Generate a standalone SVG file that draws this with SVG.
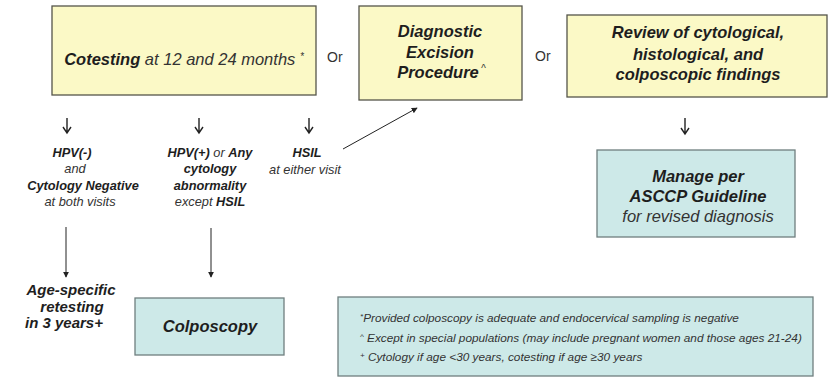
<svg xmlns="http://www.w3.org/2000/svg" width="829" height="378" viewBox="0 0 829 378">
<style>
text{font-family:"Liberation Sans",Arial,sans-serif;fill:#1e1e1e;font-style:italic}
.b{font-weight:bold}
.n{font-weight:normal;fill:#333}
.y{fill:#fbf9c6;stroke:#55554a;stroke-width:1.3}
.t{fill:#cde9e8;stroke:#6f7f7f;stroke-width:1.3}
.box{font-size:16.5px}
.mid{font-size:12.8px}
.fn{font-size:11.8px;fill:#333}
.or{font-size:14px;font-style:normal;fill:#333}
.c line,.c path{stroke:#222;fill:none}
</style>
<defs>
<marker id="tri" viewBox="0 0 8 8" refX="7" refY="4" markerWidth="6" markerHeight="6" orient="auto" markerUnits="userSpaceOnUse"><path d="M0,0 L8,4 L0,8 z" fill="#222"/></marker>
</defs>
<rect width="829" height="378" fill="#fff"/>

<g id="n-cotesting">
<rect class="y" x="52" y="6" width="264" height="89"/>
<text class="box" x="184" y="65" text-anchor="middle"><tspan class="b">Cotesting</tspan><tspan class="n"> at 12 and 24 months </tspan><tspan class="n" font-size="10" dy="-5">*</tspan></text>
</g>
<text class="or" x="327" y="62">Or</text>
<g id="n-excision">
<rect class="y" x="359" y="6" width="163" height="94"/>
<text class="box b" text-anchor="middle"><tspan x="440" y="37">Diagnostic</tspan><tspan x="440" y="58">Excision</tspan><tspan x="438" y="78">Procedure</tspan></text>
<text class="n" x="481" y="72" font-size="10">^</text>
</g>
<text class="or" x="535" y="61">Or</text>
<g id="n-review">
<rect class="y" x="567" y="15" width="260" height="82"/>
<text class="box b" text-anchor="middle"><tspan x="698" y="38">Review  of cytological,</tspan><tspan x="698" y="60">histological, and</tspan><tspan x="698" y="80">colposcopic findings</tspan></text>
</g>

<g id="n-negative">
<text class="mid" text-anchor="middle"><tspan class="b" x="72" y="157">HPV(-)</tspan><tspan class="n" x="75" y="173">and</tspan><tspan class="b" x="83" y="190">Cytology Negative</tspan><tspan class="n" x="80" y="206">at both visits</tspan></text>
</g>
<g id="n-abnormal">
<text class="mid" text-anchor="middle"><tspan x="210" y="157"><tspan class="b">HPV(+)</tspan><tspan class="n"> or </tspan><tspan class="b">Any</tspan></tspan><tspan class="b" x="210" y="173">cytology</tspan><tspan class="b" x="210" y="190">abnormality</tspan><tspan x="210" y="206"><tspan class="n">except </tspan><tspan class="b">HSIL</tspan></tspan></text>
</g>
<g id="n-hsil">
<text class="mid" text-anchor="middle"><tspan class="b" x="307" y="157">HSIL</tspan><tspan class="n" x="305" y="174">at either visit</tspan></text>
</g>
<g id="n-manage">
<rect class="t" x="597" y="150" width="198" height="87"/>
<text class="box" font-size="16px" text-anchor="middle"><tspan class="b" x="698" y="182">Manage per</tspan><tspan class="b" x="698" y="202">ASCCP Guideline</tspan><tspan class="n" x="698" y="222">for revised diagnosis</tspan></text>
</g>
<g id="n-retest">
<text class="b" font-size="15" text-anchor="middle"><tspan x="71" y="295">Age-specific</tspan><tspan x="72" y="312">retesting</tspan><tspan x="64" y="328">in 3 years+</tspan></text>
</g>
<g id="n-colposcopy">
<rect class="t" x="135" y="298" width="149" height="57"/>
<text class="b" font-size="16.5" x="210" y="332" text-anchor="middle">Colposcopy</text>
</g>
<g id="n-notes">
<rect class="t" x="338" y="297" width="475" height="79"/>
<text class="fn"><tspan x="360" y="322"><tspan font-size="8" dy="-3">*</tspan><tspan dy="3">Provided colposcopy is adequate and endocervical sampling is negative</tspan></tspan><tspan x="360" y="342"><tspan font-size="8" dy="-3">^</tspan><tspan dy="3"> Except in special populations (may include pregnant women and those ages 21-24)</tspan></tspan><tspan x="360" y="361"><tspan font-size="8" dy="-3">+</tspan><tspan dy="3"> Cytology if age &lt;30 years, cotesting if age ≥30 years</tspan></tspan></text>
</g>

<g id="connectors" class="c" stroke-width="1.4">
<path d="M67,118 V133 M63,127 L67,133 L71,127"/>
<path d="M199,118 V133 M195,127 L199,133 L203,127"/>
<path d="M309,118 V133 M305,127 L309,133 L313,127"/>
<path d="M685,118 V134 M681,128 L685,134 L689,128"/>
<line x1="343" y1="149" x2="417" y2="108" stroke-width="1" marker-end="url(#tri)"/>
<line x1="66" y1="227" x2="66" y2="277" stroke-width="1" marker-end="url(#tri)"/>
<line x1="211" y1="228" x2="211" y2="277" stroke-width="1" marker-end="url(#tri)"/>
</g>
</svg>
